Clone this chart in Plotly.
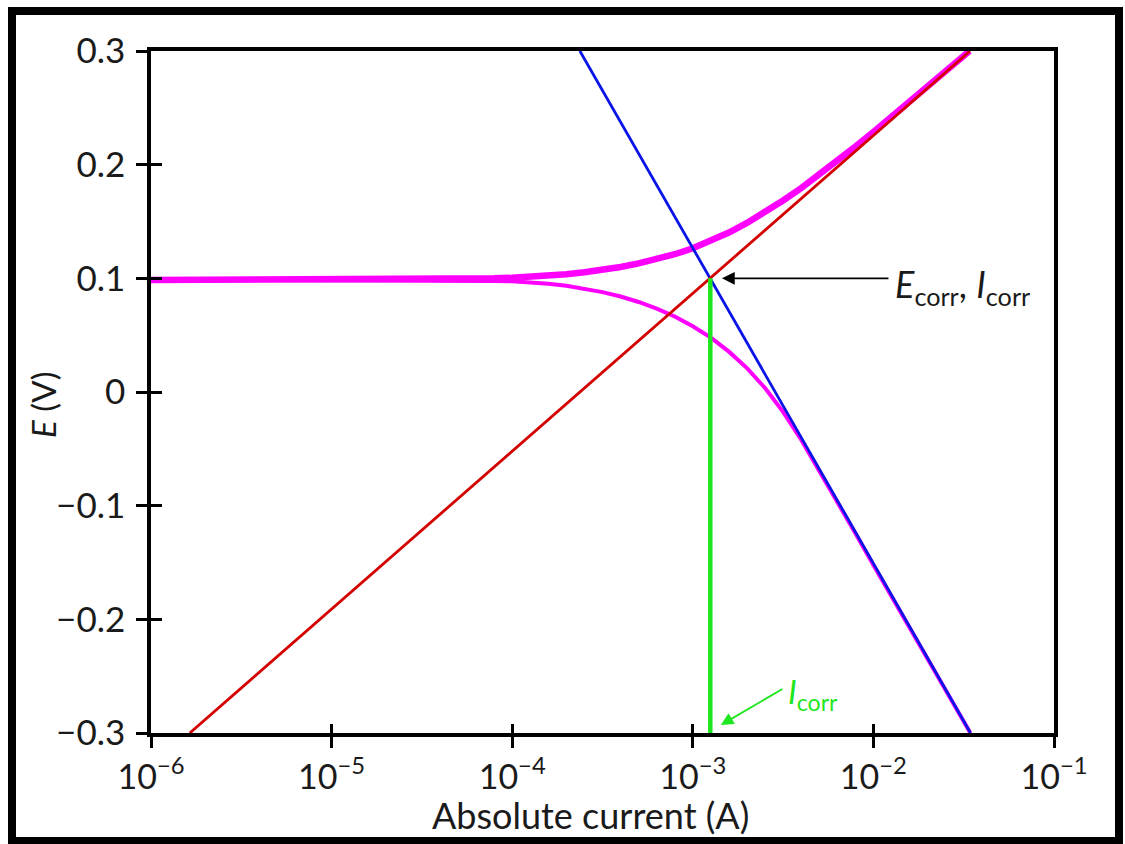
import plotly.graph_objects as go
import math

# ---- data ----
anodic_tafel_I = [1.64e-6, 0.0343]
anodic_tafel_E = [-0.30, 0.30]
cathodic_tafel_I = [2.37e-4, 0.0345]
cathodic_tafel_E = [0.30, -0.30]

# upper (anodic) measured branch: log10 of current and potential
upper_logI = [-6.0, -5.0, -4.6, -4.4, -4.2, -4.1, -4.0, -3.9, -3.8, -3.7, -3.6, -3.5,
              -3.4, -3.3, -3.2, -3.1, -3.0, -2.9, -2.8, -2.7, -2.6, -2.5, -2.4, -2.3,
              -2.2, -2.1, -2.0, -1.9, -1.8, -1.7, -1.6, -1.5, -1.468]
upper_E = [0.0985, 0.0986, 0.0988, 0.0991, 0.0996, 0.1000, 0.1005, 0.1013, 0.1023, 0.1036,
           0.1053, 0.1074, 0.1100, 0.1131, 0.1168, 0.1212, 0.1264, 0.1329, 0.1403, 0.1487,
           0.1581, 0.1685, 0.1794, 0.1911, 0.2033, 0.2159, 0.2288, 0.2420, 0.2553, 0.2688,
           0.2824, 0.2961, 0.3000]

# lower (cathodic) measured branch
lower_logI = [-6.0, -5.0, -4.6, -4.4, -4.2, -4.1, -4.0, -3.9, -3.8, -3.7, -3.6, -3.5,
              -3.4, -3.3, -3.2, -3.1, -3.0, -2.9, -2.8, -2.7, -2.6, -2.5, -2.4, -2.3,
              -2.2, -2.1, -2.0, -1.8, -1.6, -1.463]
lower_E = [0.0985, 0.0984, 0.0982, 0.0980, 0.0978, 0.0976, 0.0974, 0.0965, 0.0952, 0.0934,
           0.0910, 0.0879, 0.0840, 0.0792, 0.0734, 0.0664, 0.0579, 0.0478, 0.0355, 0.0210,
           0.0035, -0.0175, -0.0420, -0.0690, -0.0965, -0.1242, -0.1521, -0.2077, -0.2632,
           -0.3000]

icorr = 1.25e-3
ecorr = 0.10
green_I = [icorr, icorr]
green_E = [-0.30, ecorr]

x_tickvals = [1e-6, 1e-5, 1e-4, 1e-3, 1e-2, 1e-1]
x_ticktext = ["10<sup>−6</sup>", "10<sup>−5</sup>", "10<sup>−4</sup>",
              "10<sup>−3</sup>", "10<sup>−2</sup>", "10<sup>−1</sup>"]
y_tickvals = [-0.3, -0.2, -0.1, 0, 0.1, 0.2, 0.3]
y_ticktext = ["−0.3", "−0.2", "−0.1", "0", "0.1", "0.2", "0.3"]

FONT = "Lato"
TXT = "#1a1a1a"
GREEN = "#1ee61e"

upper_I = [10 ** v for v in upper_logI]
lower_I = [10 ** v for v in lower_logI]

fig = go.Figure()
fig.add_trace(go.Scatter(x=upper_I, y=upper_E, mode="lines",
                         line=dict(color="#ff00ff", width=6.5), showlegend=False))
fig.add_trace(go.Scatter(x=lower_I, y=lower_E, mode="lines",
                         line=dict(color="#ff00ff", width=4), showlegend=False))
fig.add_trace(go.Scatter(x=cathodic_tafel_I, y=cathodic_tafel_E, mode="lines",
                         line=dict(color="#0a14e6", width=2.8), showlegend=False))
fig.add_trace(go.Scatter(x=anodic_tafel_I, y=anodic_tafel_E, mode="lines",
                         line=dict(color="#d40000", width=2.8), showlegend=False))
fig.add_trace(go.Scatter(x=green_I, y=green_E, mode="lines",
                         line=dict(color=GREEN, width=4.5), showlegend=False,
                         xaxis="x2", yaxis="y2"))

xr = [-6, -1]
yr = [-0.3, 0.3]
fig.update_layout(
    width=1125, height=844,
    margin=dict(l=151, r=71, t=51, b=111),
    paper_bgcolor="white", plot_bgcolor="white",
    font=dict(family=FONT, color=TXT),
    xaxis=dict(type="log", range=xr, tickvals=x_tickvals, ticktext=x_ticktext,
               ticks="outside", ticklen=11, tickwidth=2.5, tickcolor="black",
               showline=True, linewidth=3.5, linecolor="black", mirror=True,
               showgrid=False, zeroline=False,
               tickfont=dict(size=34, family=FONT, color=TXT)),
    yaxis=dict(range=yr, tickvals=y_tickvals, ticktext=y_ticktext,
               ticks="outside", ticklen=11, tickwidth=2.5, tickcolor="black",
               showline=True, linewidth=3.5, linecolor="black", mirror=True,
               showgrid=False, zeroline=False, ticklabelstandoff=4,
               tickfont=dict(size=35, family=FONT, color=TXT)),
    xaxis2=dict(type="log", range=xr, overlaying="x", side="bottom", tickvals=x_tickvals,
                ticks="inside", ticklen=9, tickwidth=2.5, tickcolor="black",
                showticklabels=False, showline=False, showgrid=False, zeroline=False),
    yaxis2=dict(range=yr, overlaying="y", side="left", tickvals=y_tickvals,
                ticks="inside", ticklen=11, tickwidth=2.5, tickcolor="black",
                showticklabels=False, showline=False, showgrid=False, zeroline=False),
)

# axis titles
fig.add_annotation(x=(590 - 151) / 903, y=(733 - 815) / 682, xref="paper", yref="paper",
                   xanchor="center", yanchor="middle", showarrow=False,
                   text="Absolute current (A)", font=dict(size=36, family=FONT, color=TXT))
fig.add_annotation(x=(43 - 151) / 903, y=(733 - 405) / 682, xref="paper", yref="paper",
                   xanchor="center", yanchor="middle", showarrow=False, textangle=-90,
                   text="<i>E</i> (V)", font=dict(size=33, family=FONT, color=TXT))

# outer black frame around the whole picture
fig.add_shape(type="rect", xref="paper", yref="paper",
              x0=(12 - 151) / 903, x1=(1119 - 151) / 903,
              y0=(733 - 841) / 682, y1=(733 - 11) / 682,
              line=dict(color="black", width=8), fillcolor="rgba(0,0,0,0)", layer="above")

# E_corr, I_corr annotation with arrow
fig.add_annotation(x=math.log10(1.45e-3), y=ecorr, xref="x", yref="y",
                   ax=168, ay=0, axref="pixel", ayref="pixel", text="",
                   showarrow=True, arrowhead=2, arrowsize=1.6, arrowwidth=1.6, arrowcolor="black")
fig.add_annotation(x=math.log10(0.01285), y=0.093, xref="x", yref="y", xanchor="left",
                   yanchor="middle", showarrow=False,
                   text="<i>E</i><sub>corr</sub>, <i>I</i><sub>corr</sub>",
                   font=dict(size=36, family=FONT, color=TXT))

# I_corr green arrow
fig.add_annotation(x=math.log10(1.43e-3), y=-0.293, xref="x", yref="y",
                   ax=63, ay=-37, axref="pixel", ayref="pixel", text="",
                   showarrow=True, arrowhead=2, arrowsize=1.4, arrowwidth=1.8, arrowcolor=GREEN)
fig.add_annotation(x=math.log10(3.3e-3), y=-0.265, xref="x", yref="y", xanchor="left",
                   yanchor="middle", showarrow=False,
                   text="<i>I</i><sub>corr</sub>",
                   font=dict(size=33, family=FONT, color=GREEN))

fig.write_html("out.html")
